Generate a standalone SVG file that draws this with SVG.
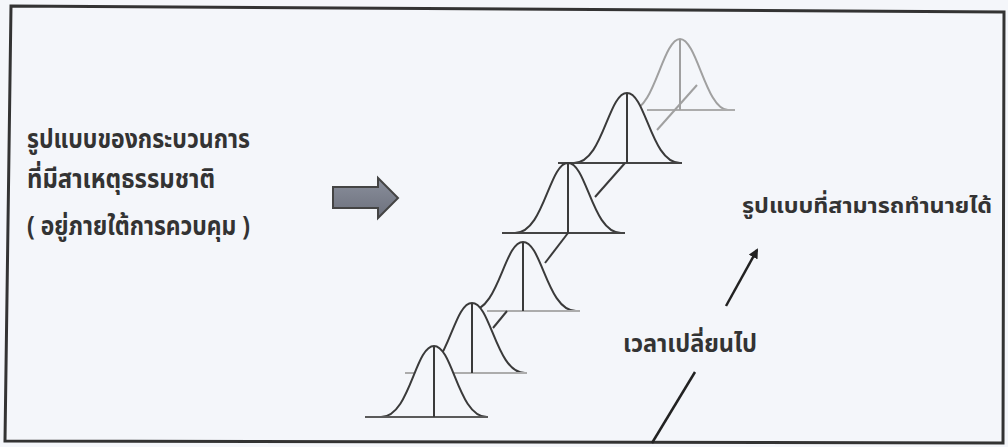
<svg xmlns="http://www.w3.org/2000/svg" width="1008" height="447" viewBox="0 0 1008 447">
<defs>
<style>
.txt{font-family:"Noto Sans Thai","Tahoma","Noto Sans","DejaVu Sans",sans-serif;font-weight:bold;fill:#333;}
.fill{fill:#f4f6fa;stroke:none;}
.curve{fill:none;stroke:#3a3a3a;stroke-width:2;}
.curve.light{stroke:#a0a0a0;}
.mean{stroke:#3a3a3a;stroke-width:2;}
.mean.light{stroke:#a0a0a0;}
.base{stroke:#444;stroke-width:2.2;}
.base.light{stroke:#acacac;}
.base.mid{stroke:#5a5a5a;}
.con{stroke:#3a3a3a;stroke-width:2;fill:none;}
.con.light{stroke:#a0a0a0;}
.arr{stroke:#222;stroke-width:2.5;fill:none;}
</style>
<marker id="ah" markerWidth="10" markerHeight="10" refX="8" refY="5" orient="auto" markerUnits="userSpaceOnUse" viewBox="0 0 10 10">
<path d="M0,0 L10,5 L0,10 Z" fill="#222"/>
</marker>
<linearGradient id="bg" x1="0" y1="0" x2="0" y2="1">
<stop offset="0" stop-color="#8a8f9c"/>
<stop offset="1" stop-color="#6c707c"/>
</linearGradient>
</defs>
<rect x="0" y="0" width="1008" height="447" fill="#f4f6fa"/>
<path d="M11,6 L1004,12 L1003,443 L5,441 Z" fill="none" stroke="#333" stroke-width="3"/>

<g id="text-left">
<text class="txt" x="27" y="148" font-size="26" textLength="223" lengthAdjust="spacingAndGlyphs">รูปแบบของกระบวนการ</text>
<text class="txt" x="27" y="188" font-size="26" textLength="188" lengthAdjust="spacingAndGlyphs">ที่มีสาเหตุธรรมชาติ</text>
<text class="txt" x="27" y="235" font-size="26" textLength="223" lengthAdjust="spacingAndGlyphs">( อยู่ภายใต้การควบคุม )</text>
</g>

<g id="block-arrow">
<path d="M333,187 L378,187 L378,178 L398,198 L378,218 L378,208 L333,208 Z" fill="url(#bg)" stroke="#444" stroke-width="2"/>
</g>

<g id="curve6">
<path class="fill" d="M632,110 C654,110 663,39 680,39 C697,39 706,110 728,110 Z"/>
<path class="curve light" d="M632,110 C654,110 663,39 680,39 C697,39 706,110 728,110"/>
<line class="base light" x1="647" y1="110" x2="735" y2="110"/>
<line class="mean light" x1="680" y1="39" x2="680" y2="110"/>
</g>
<g id="curve5">
<path class="fill" d="M574,163 C603,163 608,93 627,93 C646,93 651,163 680,163 Z"/>
<path class="curve" d="M574,163 C603,163 608,93 627,93 C646,93 651,163 680,163"/>
<line class="base" x1="558" y1="163" x2="682" y2="163"/>
<line class="mean" x1="627" y1="93" x2="627" y2="163"/>
</g>
<g id="curve4">
<path class="fill" d="M515,233 C544,233 549,163 568,163 C587,163 592,233 621,233 Z"/>
<path class="curve" d="M515,233 C544,233 549,163 568,163 C587,163 592,233 621,233"/>
<line class="base" x1="502" y1="233" x2="625" y2="233"/>
<line class="mean" x1="568" y1="163" x2="568" y2="233"/>
</g>
<g id="curve3">
<path class="fill" d="M470,311 C499,311 504,242 523,242 C542,242 547,311 576,311 Z"/>
<path class="curve" d="M470,311 C499,311 504,242 523,242 C542,242 547,311 576,311"/>
<line class="base light" x1="487" y1="311" x2="580" y2="311"/>
<line class="mean" x1="523" y1="242" x2="523" y2="311"/>
</g>
<g id="curve2">
<path class="fill" d="M419,373 C448,373 453,303 472,303 C491,303 496,373 525,373 Z"/>
<path class="curve" d="M419,373 C448,373 453,303 472,303 C491,303 496,373 525,373"/>
<line class="base light" x1="405" y1="373" x2="527" y2="373"/>
<line class="mean" x1="472" y1="303" x2="472" y2="373"/>
</g>
<g id="curve1">
<path class="fill" d="M381,417 C410,417 415,346 434,346 C453,346 458,417 487,417 Z"/>
<path class="curve" d="M381,417 C410,417 415,346 434,346 C453,346 458,417 487,417"/>
<line class="base mid" x1="365" y1="417" x2="488" y2="417"/>
<line class="mean" x1="434" y1="346" x2="434" y2="417"/>
</g>

<g id="connectors">
<line class="con" x1="493" y1="328" x2="507" y2="311"/>
<line class="con" x1="545" y1="263" x2="568" y2="233"/>
<line class="con" x1="595" y1="197" x2="625" y2="163"/>
<line class="con light" x1="657" y1="130" x2="697" y2="85"/>
<line class="arr" x1="726" y1="306" x2="757" y2="250" marker-end="url(#ah)"/>
<line class="arr" x1="695" y1="372" x2="652" y2="443"/>
</g>

<g id="text-right">
<text class="txt" x="742" y="213" font-size="22" textLength="250" lengthAdjust="spacingAndGlyphs">รูปแบบที่สามารถทำนายได้</text>
<text class="txt" x="623" y="352" font-size="24" textLength="134" lengthAdjust="spacingAndGlyphs">เวลาเปลี่ยนไป</text>
</g>
</svg>
